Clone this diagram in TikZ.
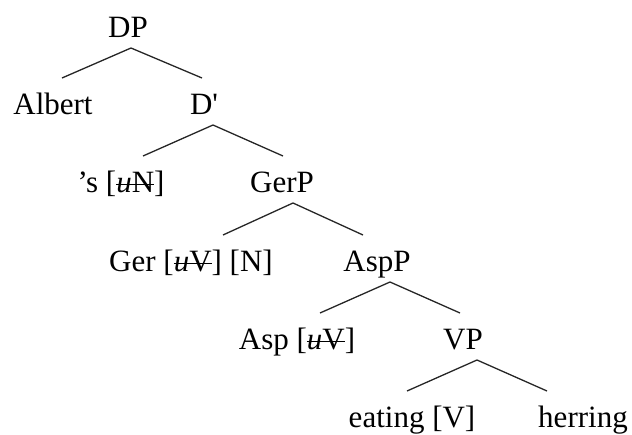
\documentclass[tikz,border=0pt]{standalone}
\usepackage{fontspec}
\setmainfont{Liberation Serif}
\newcommand{\struck}[1]{\setbox0\hbox{#1}\rlap{\raisebox{0.22em}{\rule{\wd0}{1.4pt}}}\box0}

\begin{document}
\begin{tikzpicture}[x=1pt,y=-1pt]
    
    \tikzset{cat/.style = {anchor=base,inner sep=0pt,font=\fontsize{31}{36}\selectfont}}
    \tikzset{edge/.style = {-,line width=1.3pt,black!85}}
    \useasboundingbox (0,0) rectangle (632,434);
    \node[cat] (DP) at (128,37)  {DP};
    \node[cat] (Albert) at (53,114)  {Albert};
    \node[cat] (Dbar) at (204,114)  {D\textquotesingle};
    \node[cat] (S) at (121,192)  {’s [\struck{\textit{u}N}]};
    \node[cat] (GerP) at (282,192)  {GerP};
    \node[cat] (Ger) at (191,271)  {Ger [\struck{\textit{u}V}] [N]};
    \node[cat] (AspP) at (377,271)  {AspP};
    \node[cat] (Asp) at (297,349)  {Asp [\struck{\textit{u}V}]};
    \node[cat] (VP) at (463,349)  {VP};
    \node[cat] (eating) at (412,427)  {eating [V]};
    \node[cat] (herring) at (583,427)  {herring};
    %edges
    \draw[edge] ([shift={(3,11)}]DP.base) to ([shift={(9,-36)}]Albert.base);
    \draw[edge] ([shift={(3,11)}]DP.base) to ([shift={(-2,-36)}]Dbar.base);
    \draw[edge] ([shift={(9,11)}]Dbar.base) to ([shift={(22,-36)}]S.base);
    \draw[edge] ([shift={(9,11)}]Dbar.base) to ([shift={(1,-36)}]GerP.base);
    \draw[edge] ([shift={(11,11)}]GerP.base) to ([shift={(32,-36)}]Ger.base);
    \draw[edge] ([shift={(11,11)}]GerP.base) to ([shift={(-14,-36)}]AspP.base);
    \draw[edge] ([shift={(13,11)}]AspP.base) to ([shift={(23,-36)}]Asp.base);
    \draw[edge] ([shift={(13,11)}]AspP.base) to ([shift={(-3,-36)}]VP.base);
    \draw[edge] ([shift={(14,11)}]VP.base) to ([shift={(-5,-36)}]eating.base);
    \draw[edge] ([shift={(14,11)}]VP.base) to ([shift={(-36,-36)}]herring.base);
    \end{tikzpicture}
\end{document}
